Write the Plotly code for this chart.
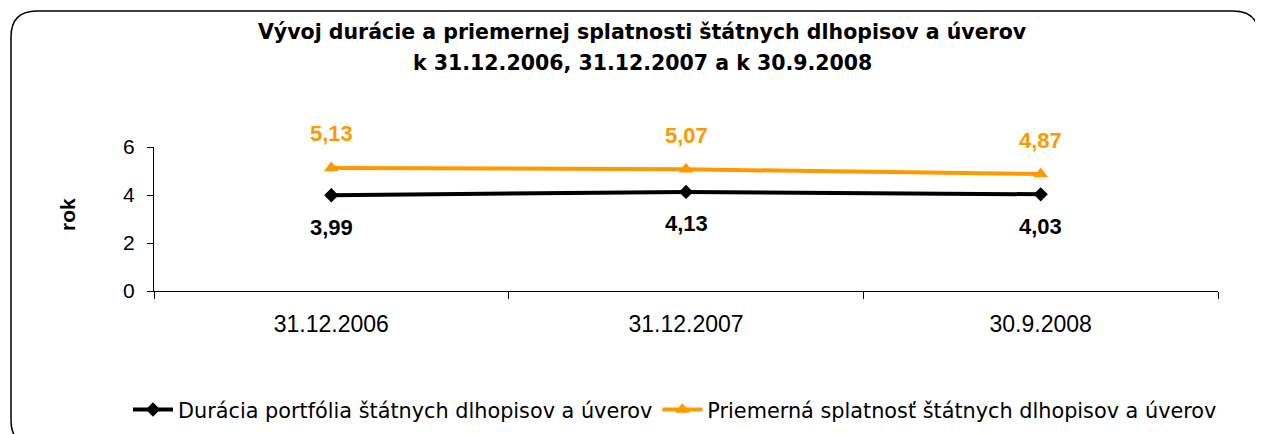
import plotly.graph_objects as go

categories = ["31.12.2006", "31.12.2007", "30.9.2008"]
duracia = [3.99, 4.13, 4.03]
splatnost = [5.13, 5.07, 4.87]
duracia_name = "Durácia portfólia štátnych dlhopisov a úverov"
splatnost_name = "Priemerná splatnosť štátnych dlhopisov a úverov"
title_lines = ["Vývoj durácie a priemernej splatnosti štátnych dlhopisov a úverov",
               "k 31.12.2006, 31.12.2007 a k 30.9.2008"]
y_ticks = [0, 2, 4, 6]

OFF = 8  # page body margin
W, H = 1263 - OFF, 434 - OFF
L, R, T, B = 154 - OFF, 1218 - OFF, 147 - OFF, 291 - OFF
pw, ph = R - L, B - T

def px(x):
    return (x - OFF - L) / pw

def py(y):
    return (B - (y - OFF)) / ph

FONT = "Liberation Sans, Arial, sans-serif"
WIDE = "DejaVu Sans, Liberation Sans, sans-serif"
BLACK = "#000000"
ORANGE = "#FF9900"

fig = go.Figure()
fig.add_trace(go.Scatter(
    x=categories, y=duracia, name=duracia_name, mode="lines+markers",
    line=dict(color=BLACK, width=4),
    marker=dict(symbol="diamond", size=11, color=BLACK),
))
fig.add_trace(go.Scatter(
    x=categories, y=splatnost, name=splatnost_name, mode="lines+markers",
    line=dict(color=ORANGE, width=4),
    marker=dict(symbol="triangle-up", size=13, color=ORANGE),
))

def fmt(v):
    return f"{v:.2f}".replace(".", ",")

for c, v in zip(categories, duracia):
    fig.add_annotation(x=c, y=v, text=f"<b>{fmt(v)}</b>", showarrow=False,
                       yshift=-32, font=dict(family=FONT, size=22, color=BLACK))
for c, v in zip(categories, splatnost):
    fig.add_annotation(x=c, y=v, text=f"<b>{fmt(v)}</b>", showarrow=False,
                       yshift=34, font=dict(family=FONT, size=22, color=ORANGE))

# Title lines
for line, yc in zip(title_lines, [32, 63]):
    fig.add_annotation(xref="paper", yref="paper", x=px(642), y=py(yc),
                       xanchor="center", yanchor="middle", showarrow=False,
                       text=f"<b>{line}</b>",
                       font=dict(family=WIDE, size=20.5, color=BLACK))

# Y axis title
fig.add_annotation(xref="paper", yref="paper", x=px(67), y=py(215),
                   xanchor="center", yanchor="middle", showarrow=False,
                   text="<b>rok</b>", textangle=-90,
                   font=dict(family=FONT, size=21, color=BLACK))

# Rounded outer frame
x0, x1, y0, y1, r = px(11), px(1259), py(11), py(446), 26
rx, ry = r / pw, r / ph
path = (f"M {x0+rx},{y0} L {x1-rx},{y0} Q {x1},{y0} {x1},{y0-ry} "
        f"L {x1},{y1+ry} Q {x1},{y1} {x1-rx},{y1} L {x0+rx},{y1} "
        f"Q {x0},{y1} {x0},{y1+ry} L {x0},{y0-ry} Q {x0},{y0} {x0+rx},{y0} Z")
fig.add_shape(type="path", path=path, xref="paper", yref="paper",
              line=dict(color="#000000", width=1.5), layer="below")

fig.update_layout(
    width=W, height=H,
    margin=dict(l=L, r=W - R, t=T, b=H - B, autoexpand=False),
    paper_bgcolor="white", plot_bgcolor="white",
    font=dict(family=FONT, color="#000000"),
    showlegend=True,
    legend=dict(
        orientation="h", x=px(128), xanchor="left", y=py(410), yanchor="middle",
        font=dict(family=WIDE, size=20.8, color="#000000"),
        itemwidth=40, tracegroupgap=0, bgcolor="rgba(0,0,0,0)",
    ),
    xaxis=dict(
        type="category", range=[-0.5, 2.5], showgrid=False, zeroline=False,
        showline=True, linecolor="#000000", linewidth=1.2,
        ticks="outside", tickson="boundaries", ticklen=7, tickcolor="#000000",
        tickfont=dict(family=FONT, size=23, color="#000000"),
        ticklabelstandoff=12, automargin=False,
        fixedrange=True,
    ),
    yaxis=dict(
        range=[0, 6], tickvals=y_ticks, showgrid=False, zeroline=False,
        showline=True, linecolor="#000000", linewidth=1.2,
        ticks="outside", ticklen=6, tickcolor="#000000",
        tickfont=dict(family=FONT, size=21, color="#000000"),
        ticklabelstandoff=8, automargin=False,
        fixedrange=True,
    ),
)

fig.write_html("out.html")
